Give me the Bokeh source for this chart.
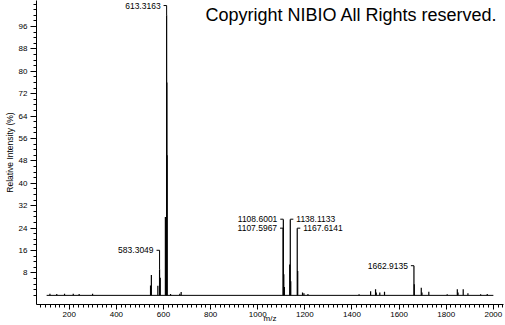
from bokeh.plotting import figure
from bokeh.models import FixedTicker, Label, Range1d, ColumnDataSource
from bokeh.core.properties import value
from bokeh.embed import file_html
from bokeh.resources import INLINE

# ---- data ----
baseline_start = 104
baseline_end = 2000

peak_mz = [118, 147, 180, 217, 242, 299,
           545, 548.5, 576, 583.3, 586.3, 608, 613.3, 614.3, 615.3, 630, 669, 675,
           1107.6, 1108.6, 1110.6, 1113, 1135.6, 1138.1, 1140.1, 1167.6, 1169.6,
           1190, 1196, 1213, 1430,
           1479, 1500, 1503, 1518, 1538,
           1662.9, 1664.4, 1694, 1697, 1726, 1804, 1847, 1850, 1872, 1892, 1946, 1974]
peak_int = [0.6, 0.5, 0.6, 0.6, 0.5, 0.6,
            3.5, 7.3, 3.4, 9.3, 6.3, 28.0, 100.0, 76.0, 50.0, 0.5, 0.6, 1.2,
            24.0, 27.0, 7.5, 3.0, 11.0, 27.0, 5.0, 24.0, 8.7,
            1.0, 0.8, 0.5, 0.4,
            1.5, 2.2, 1.0, 1.0, 1.3,
            10.5, 4.0, 2.7, 1.0, 1.3, 0.4, 2.2, 1.0, 2.2, 0.8, 0.4, 0.5]

label_mz = [613.3, 583.3, 1108.6, 1107.6, 1138.1, 1167.6, 1662.9]
label_text = ["613.3163", "583.3049", "1108.6001", "1107.5967",
              "1138.1133", "1167.6141", "1662.9135"]
label_level = [103.5, 16.1, 27.2, 24.0, 27.2, 24.0, 10.6]
label_side = ["left", "left", "left", "left", "right", "right", "left"]

y_ticks = [8, 16, 24, 32, 40, 48, 56, 64, 72, 80, 88, 96]
x_ticks = [200, 400, 600, 800, 1000, 1200, 1400, 1600, 1800, 2000]

x_title = "m/z"
y_title = "Relative Intensity (%)"
copyright_text = "Copyright NIBIO All Rights reserved."

SMALL_FONT = "Liberation Sans Narrow, Liberation Sans"

p = figure(width=505, height=325,
           x_range=Range1d(61, 2043), y_range=Range1d(-3.26, 105.3),
           output_backend="svg", toolbar_location=None,
           min_border_left=36, min_border_right=2, min_border_top=0,
           min_border_bottom=21)
p.outline_line_color = None
p.grid.visible = False
p.background_fill_color = "white"
p.border_fill_color = "white"

# baseline
p.segment(x0=[baseline_start], y0=[0], x1=[baseline_end], y1=[0],
          line_color="black", line_width=1)
# peaks
src = ColumnDataSource(dict(x=peak_mz, y=peak_int, z=[0] * len(peak_mz)))
p.segment(x0="x", y0="z", x1="x", y1="y", source=src,
          line_color="black", line_width=1.2)

# peak labels with brackets
bx0, by0, bx1, by1 = [], [], [], []
hx0, hx1, hy = [], [], []
tx, ty, ta, toff = [], [], [], []
for mz, txt, lvl, side in zip(label_mz, label_text, label_level, label_side):
    top = peak_int[peak_mz.index(mz)]
    bx0.append(mz); bx1.append(mz); by0.append(top); by1.append(lvl)
    d = -13 if side == "left" else 13
    hx0.append(mz); hx1.append(mz + d); hy.append(lvl)
    tx.append(mz); ty.append(lvl)
    ta.append("right" if side == "left" else "left")
    toff.append(-6 if side == "left" else 6)
p.segment(x0=bx0, y0=by0, x1=bx1, y1=by1, line_color="black", line_width=1)
p.segment(x0=hx0, y0=hy, x1=hx1, y1=hy, line_color="black", line_width=1)
lsrc = ColumnDataSource(dict(x=tx, y=ty, t=label_text, a=ta, o=toff))
p.text(x="x", y="y", text="t", text_align="a", x_offset="o",
       text_baseline="middle", text_font=value(SMALL_FONT),
       text_font_size="8.5px", text_color="black", source=lsrc)

# copyright
p.add_layout(Label(x=2018, y=100, text=copyright_text, text_align="right",
                   text_baseline="middle", text_font="Liberation Sans",
                   text_font_size="18px", text_color="black"))

# axes
yax = p.yaxis[0]
yax.ticker = FixedTicker(ticks=y_ticks, minor_ticks=list(range(0, 106, 2)))
yax.axis_label = y_title
yax.axis_label_text_font = SMALL_FONT
yax.axis_label_text_font_size = "8.5px"
yax.axis_label_text_font_style = "normal"
yax.axis_label_standoff = 1
yax.major_label_text_font = SMALL_FONT
yax.major_label_text_font_size = "8px"
yax.major_label_standoff = 3
yax.major_tick_out = 6
yax.major_tick_in = 0
yax.minor_tick_out = 3
yax.minor_tick_in = 0

xax = p.xaxis[0]
xax.ticker = FixedTicker(ticks=x_ticks, minor_ticks=list(range(80, 2041, 20)))
xax.axis_label = x_title
xax.axis_label_text_font = SMALL_FONT
xax.axis_label_text_font_size = "8px"
xax.axis_label_text_font_style = "normal"
xax.axis_label_standoff = -6
xax.major_label_text_font = SMALL_FONT
xax.major_label_text_font_size = "8px"
xax.major_label_standoff = 2
xax.major_tick_out = 5
xax.major_tick_in = 0
xax.minor_tick_out = 3
xax.minor_tick_in = 0

for ax in (xax, yax):
    ax.axis_line_color = "black"
    ax.major_tick_line_color = "black"
    ax.minor_tick_line_color = "black"
    ax.major_label_text_color = "black"
    ax.axis_label_text_color = "black"

open("out.html", "w").write(file_html(p, INLINE))
